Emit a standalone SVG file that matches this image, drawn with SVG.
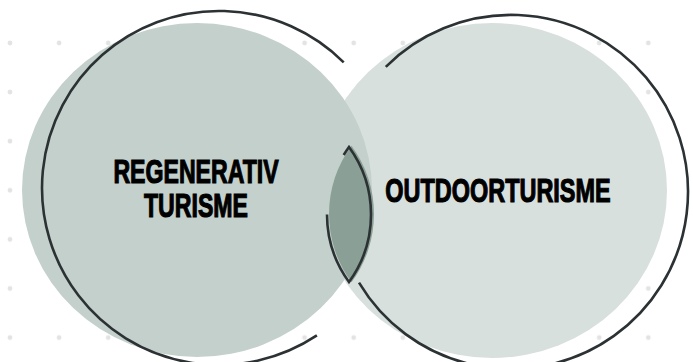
<svg xmlns="http://www.w3.org/2000/svg" width="693" height="362" viewBox="0 0 693 362">
  <defs>
    <style>
      .dot { fill: #e3e3e3; }
      .line { fill: none; stroke: #2c3234; stroke-width: 2.6; stroke-linecap: butt; stroke-linejoin: miter; }
      .label { font-family: "Liberation Sans", Arial, sans-serif; font-weight: bold; font-size: 34px; fill: #000; stroke: #000; stroke-width: 1.2; text-anchor: middle; }
    </style>
    <pattern id="dots" x="10" y="43" width="49.1" height="49.1" patternUnits="userSpaceOnUse">
      <circle class="dot" cx="0" cy="0" r="2.4"/>
      <circle class="dot" cx="49.1" cy="0" r="2.4"/>
      <circle class="dot" cx="0" cy="49.1" r="2.4"/>
      <circle class="dot" cx="49.1" cy="49.1" r="2.4"/>
    </pattern>
  </defs>

  <rect width="693" height="362" fill="#ffffff"/>
  <!-- dotted background grid -->
  <rect x="5" y="38" width="650" height="305" fill="url(#dots)"/>

  <!-- right set -->
  <g id="outdoorturisme">
    <ellipse cx="492" cy="190.5" rx="175" ry="167.5" fill="#d8e0dd"/>
    <path class="line" d="M385.8,66.8 A177,177 0 1 1 359,282.6"/>
    <text class="label" transform="translate(498,202) scale(0.69,1)">OUTDOORTURISME</text>
  </g>

  <!-- left set -->
  <g id="regenerativ-turisme">
    <ellipse cx="197" cy="190" rx="175" ry="167" fill="#c4d0cb"/>
    <path class="line" d="M343.7,62.3 A177,177 0 1 0 316.9,335.4"/>
    <text class="label" transform="translate(196,0) scale(0.68,1)"><tspan x="0" y="183">REGENERATIV</tspan><tspan x="0" y="217">TURISME</tspan></text>
  </g>

  <!-- overlap -->
  <g id="overlap">
    <path d="M351.5,145.7 A115,115 0 0 1 351.5,282.3 A115,115 0 0 1 351.5,145.7 Z" fill="#8aa096"/>
    <path class="line" d="M343.7,155 A114.5,114.5 0 0 1 349,147 A114.5,114.5 0 0 1 349,282 A114.5,114.5 0 0 1 327,214.5"/>
  </g>
</svg>
